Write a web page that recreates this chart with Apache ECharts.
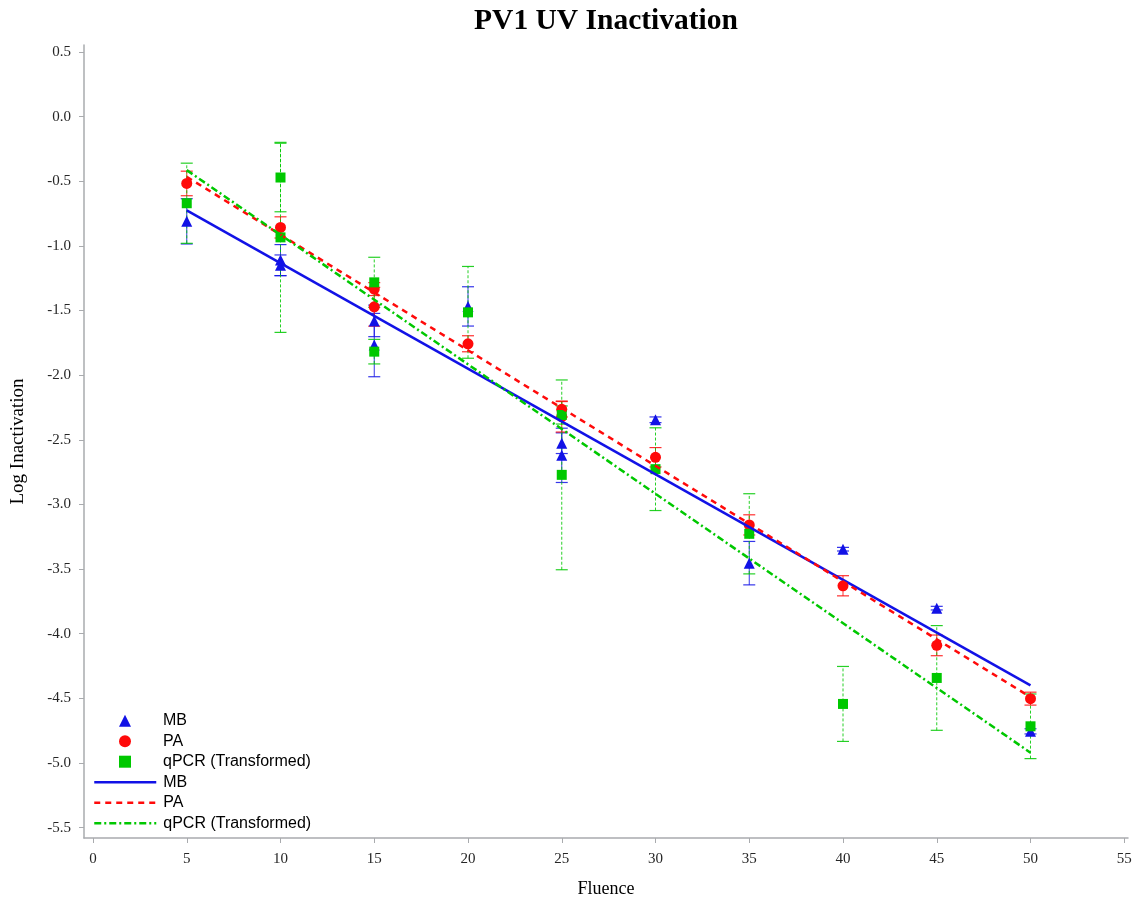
<!DOCTYPE html>
<html>
<head>
<meta charset="utf-8">
<title>PV1 UV Inactivation</title>
<script src="https://cdn.jsdelivr.net/npm/echarts@6/dist/echarts.min.js"></script>
<style>
  html, body { margin: 0; padding: 0; background: #ffffff; }
  #chart { width: 1143px; height: 902px; }
</style>
</head>
<body>
<div id="chart"></div>
<script>
// Axis tick labels
const xTicks = [0, 5, 10, 15, 20, 25, 30, 35, 40, 45, 50, 55];
const yTicks = [0.5, 0.0, -0.5, -1.0, -1.5, -2.0, -2.5, -3.0, -3.5, -4.0, -4.5, -5.0, -5.5];

// MB replicates: fluence, log inactivation, error half-width
const mbX   = [5, 10, 10, 15, 15, 20, 25, 25, 30, 35, 40, 45, 50];
const mbY   = [-0.81, -1.11, -1.15, -1.58, -1.767, -1.468, -2.526, -2.62, -2.345, -3.454, -3.346, -3.802, -4.755];
const mbErr = [0.175, 0.12, 0.08, 0.122, 0.245, 0.152, 0.08, 0.21, 0.022, 0.168, 0.014, 0.014, 0.02];

// PA replicates
const paX   = [5, 10, 15, 15, 20, 25, 25, 30, 35, 40, 45, 50];
const paY   = [-0.517, -0.857, -1.334, -1.471, -1.757, -2.264, -2.32, -2.635, -3.158, -3.629, -4.09, -4.502];
const paErr = [0.095, 0.082, 0.05, 0.15, 0.062, 0.06, 0.12, 0.075, 0.078, 0.078, 0.08, 0.05];

// qPCR (transformed) replicates
const qX   = [5, 10, 10, 15, 15, 20, 25, 25, 30, 35, 40, 45, 50];
const qY   = [-0.67, -0.471, -0.934, -1.282, -1.818, -1.514, -2.308, -2.771, -2.727, -3.227, -4.543, -4.342, -4.716];
const qErr = [0.31, 0.265, 0.735, 0.194, 0.095, 0.355, 0.07, 0.734, 0.32, 0.31, 0.29, 0.405, 0.25];

// Fitted regression lines (end points)
const fitX     = [5, 50];
const mbFitY   = [-0.725, -4.40];
const paFitY   = [-0.466, -4.49];
const qFitY    = [-0.414, -4.92];

// Legend entries
const markerNames = ['MB', 'PA', 'qPCR (Transformed)'];
const fitNames = ['MB ', 'PA ', 'qPCR (Transformed) '];

const BLUE = '#1212e6';
const RED = '#ff0a0a';
const GREEN = '#00c800';

const zip = (xs, ys) => xs.map((x, i) => [x, ys[i]]);

function errorBars(name, xs, ys, errs, color, dash, z) {
  return {
    name: name,
    type: 'custom',
    z: z,
    silent: true,
    encode: { x: 0, y: [1, 2] },
    data: xs.map((x, i) => [x, ys[i] - errs[i], ys[i] + errs[i]]),
    renderItem: function (params, api) {
      const x = api.value(0);
      const lo = api.coord([x, api.value(1)]);
      const hi = api.coord([x, api.value(2)]);
      const hw = 6;
      const capStyle = { stroke: color, lineWidth: 1.2, opacity: 0.85 };
      return {
        type: 'group',
        children: [
          { type: 'line', shape: { x1: lo[0], y1: lo[1], x2: hi[0], y2: hi[1] },
            style: { stroke: color, lineWidth: 1, opacity: 0.85, lineDash: dash } },
          { type: 'line', shape: { x1: lo[0] - hw, y1: lo[1], x2: lo[0] + hw, y2: lo[1] }, style: capStyle },
          { type: 'line', shape: { x1: hi[0] - hw, y1: hi[1], x2: hi[0] + hw, y2: hi[1] }, style: capStyle }
        ]
      };
    }
  };
}

const axisGray = '#a9abae';
const serif = '"Liberation Serif", "Times New Roman", serif';
const sans = '"Liberation Sans", Arial, sans-serif';
const legendText = { fontFamily: sans, fontSize: 16, color: '#000000', lineHeight: 16 };
const legendTop = 712.7;
const legendStep = 20.5;

const chart = echarts.init(document.getElementById('chart'), null, { renderer: 'canvas' });

chart.setOption({
  animation: false,
  backgroundColor: '#ffffff',
  title: {
    text: 'PV1 UV Inactivation',
    left: 606,
    textAlign: 'center',
    top: 6,
    padding: 0,
    textStyle: { fontFamily: serif, fontSize: 29.5, fontWeight: 'bold', color: '#000000' }
  },
  grid: { left: 84, right: 15, top: 45, bottom: 64, containLabel: false, outerBoundsMode: 'none' },
  legend: [
    {
      // marker symbols
      orient: 'vertical',
      left: 119,
      top: legendTop,
      padding: 0,
      itemWidth: 12,
      itemHeight: 12,
      itemGap: legendStep - 16,
      data: [
        { name: markerNames[0], icon: 'triangle' },
        { name: markerNames[1], icon: 'circle' },
        { name: markerNames[2], icon: 'rect' }
      ],
      textStyle: Object.assign({ padding: [0, 0, 0, 27] }, legendText),
      selectedMode: false
    },
    {
      // fitted lines: line sample only, the centre symbol is hidden
      orient: 'vertical',
      left: 93,
      top: legendTop + 3 * legendStep,
      padding: 0,
      itemWidth: 62,
      itemHeight: 12,
      itemGap: legendStep - 16,
      data: fitNames,
      itemStyle: { opacity: 0 },
      lineStyle: { opacity: 1, width: 2.5 },
      formatter: function (name) { return name.trim(); },
      textStyle: Object.assign({ padding: [0, 0, 0, 2] }, legendText),
      selectedMode: false
    }
  ],
  xAxis: {
    type: 'value',
    name: 'Fluence',
    nameLocation: 'middle',
    nameGap: 42,
    nameTextStyle: { fontFamily: serif, fontSize: 18, color: '#000000' },
    min: -0.48,
    max: 55.2,
    splitLine: { show: false },
    axisLine: { show: true, onZero: false, lineStyle: { color: axisGray, width: 1.5 } },
    axisTick: { show: true, length: 5, customValues: xTicks, lineStyle: { color: axisGray, width: 1 } },
    axisLabel: { customValues: xTicks, margin: 14, fontFamily: serif, fontSize: 15, color: '#262626',
                 formatter: function (v) { return String(v); } }
  },
  yAxis: {
    type: 'value',
    name: 'Log Inactivation',
    nameLocation: 'middle',
    nameGap: 56,
    nameTextStyle: { fontFamily: serif, fontSize: 19, color: '#000000' },
    min: -5.58,
    max: 0.554,
    splitLine: { show: false },
    axisLine: { show: true, onZero: false, lineStyle: { color: axisGray, width: 1.5 } },
    axisTick: { show: true, length: 5, customValues: yTicks, lineStyle: { color: axisGray, width: 1 } },
    axisLabel: { customValues: yTicks, margin: 13, fontFamily: serif, fontSize: 15, color: '#262626',
                 formatter: function (v) { return Number(v).toFixed(1); } }
  },
  series: [
    errorBars('MB error', mbX, mbY, mbErr, BLUE, null, 2),
    errorBars('PA error', paX, paY, paErr, RED, null, 2),
    errorBars('qPCR error', qX, qY, qErr, GREEN, [3, 2], 2),
    {
      name: markerNames[0], type: 'scatter', z: 3, symbol: 'triangle', symbolSize: 11,
      itemStyle: { color: BLUE, opacity: 1 }, data: zip(mbX, mbY)
    },
    {
      name: markerNames[1], type: 'scatter', z: 3, symbol: 'circle', symbolSize: 11,
      itemStyle: { color: RED, opacity: 1 }, data: zip(paX, paY)
    },
    {
      name: markerNames[2], type: 'scatter', z: 3, symbol: 'rect', symbolSize: 10,
      itemStyle: { color: GREEN, opacity: 1 }, data: zip(qX, qY)
    },
    {
      name: fitNames[0], type: 'line', z: 4, symbol: 'none', data: zip(fitX, mbFitY),
      lineStyle: { color: BLUE, width: 2.5, type: 'solid' }, itemStyle: { color: BLUE }
    },
    {
      name: fitNames[1], type: 'line', z: 4, symbol: 'none', data: zip(fitX, paFitY),
      lineStyle: { color: RED, width: 2.5, type: [6, 5] }, itemStyle: { color: RED }
    },
    {
      name: fitNames[2], type: 'line', z: 4, symbol: 'none', data: zip(fitX, qFitY),
      lineStyle: { color: GREEN, width: 2.5, type: [7, 3, 2, 3] }, itemStyle: { color: GREEN }
    }
  ]
});
</script>
</body>
</html>
